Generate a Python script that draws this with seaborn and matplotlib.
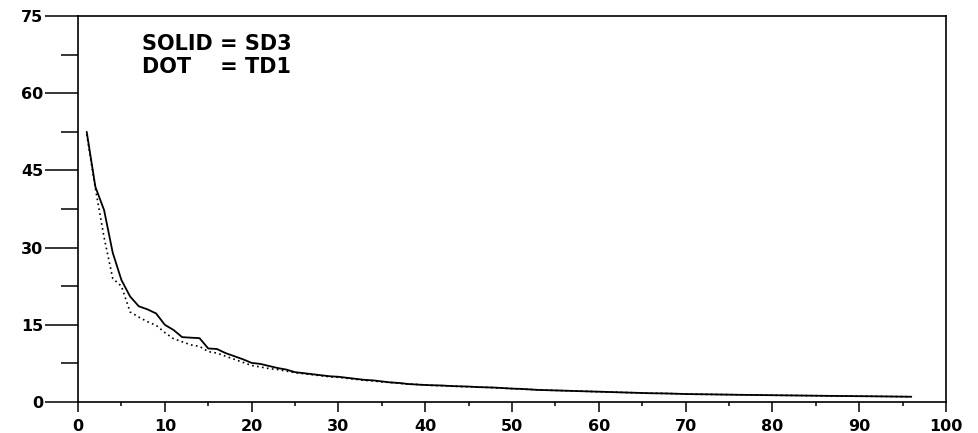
import matplotlib
matplotlib.use("Agg")

import matplotlib.pyplot as plt
import pandas as pd
import seaborn as sns
from matplotlib.ticker import MultipleLocator

# x positions (1..96) and the two series
x_vals = list(range(1, 97))

sd3 = [
    52.5, 41.8, 37.3, 29.0, 23.7, 20.5, 18.6, 18.0, 17.2, 15.0,
    14.0, 12.6, 12.5, 12.4, 10.4, 10.3, 9.5, 8.9, 8.3, 7.6,
    7.4, 7.0, 6.6, 6.3, 5.8, 5.6, 5.4, 5.2, 5.0, 4.9,
    4.7, 4.5, 4.3, 4.2, 4.0, 3.8, 3.7, 3.5, 3.4, 3.3,
    3.25, 3.2, 3.1, 3.05, 3.0, 2.9, 2.85, 2.8, 2.7, 2.6,
    2.55, 2.45, 2.35, 2.3, 2.25, 2.2, 2.15, 2.1, 2.05, 2.0,
    1.95, 1.9, 1.85, 1.8, 1.75, 1.7, 1.68, 1.65, 1.6, 1.55,
    1.52, 1.5, 1.48, 1.45, 1.43, 1.4, 1.38, 1.36, 1.34, 1.32,
    1.3, 1.28, 1.26, 1.24, 1.22, 1.2, 1.18, 1.16, 1.15, 1.13,
    1.12, 1.1, 1.08, 1.06, 1.04, 1.02,
]

td1 = [
    52.0, 41.5, 32.0, 24.0, 22.5, 17.5, 16.5, 15.6, 14.9, 13.5,
    12.3, 11.7, 11.1, 10.8, 9.8, 9.5, 8.9, 8.3, 7.7, 7.1,
    6.8, 6.5, 6.3, 6.0, 5.7, 5.5, 5.3, 5.1, 4.9, 4.8,
    4.6, 4.4, 4.2, 4.1, 3.9, 3.8, 3.6, 3.5, 3.4, 3.3,
    3.2, 3.15, 3.1, 3.0, 2.95, 2.9, 2.85, 2.75, 2.7, 2.6,
    2.5, 2.45, 2.35, 2.3, 2.25, 2.2, 2.15, 2.1, 2.05, 2.0,
    1.95, 1.9, 1.85, 1.8, 1.75, 1.72, 1.68, 1.65, 1.6, 1.56,
    1.52, 1.5, 1.48, 1.46, 1.43, 1.4, 1.38, 1.36, 1.34, 1.32,
    1.3, 1.28, 1.26, 1.24, 1.22, 1.2, 1.18, 1.17, 1.15, 1.13,
    1.12, 1.1, 1.08, 1.06, 1.04, 1.02,
]

y_major = [0, 15, 30, 45, 60, 75]
x_major = list(range(0, 101, 10))

sns.set_style("ticks")
plt.rcParams["font.family"] = ["DejaVu Sans"]
plt.rcParams["text.color"] = "black"
plt.rcParams["xtick.color"] = "black"
plt.rcParams["ytick.color"] = "black"

df = pd.DataFrame({"x": x_vals, "SD3": sd3, "TD1": td1})

fig = plt.figure(figsize=(9.79, 4.33), dpi=100)
ax = fig.add_axes([0.0797, 0.0716, 0.8866, 0.8914])

sns.lineplot(data=df, x="x", y="SD3", ax=ax, color="black", linewidth=1.3)
sns.lineplot(data=df, x="x", y="TD1", ax=ax, color="black", linewidth=1.2,
             linestyle=(0, (1, 2)))

ax.set_xlim(0, 100)
ax.set_ylim(0, 75)
ax.set_xlabel("")
ax.set_ylabel("")

for side in ["left", "right", "top", "bottom"]:
    ax.spines[side].set_visible(True)
    ax.spines[side].set_color("black")
    ax.spines[side].set_linewidth(1.2)

ax.set_xticks(x_major)
ax.set_yticks(y_major)
ax.xaxis.set_minor_locator(MultipleLocator(5))
ax.yaxis.set_minor_locator(MultipleLocator(7.5))

ax.tick_params(axis="y", which="major", direction="out", length=23.5,
               width=1.1, color="black", pad=1.5, labelsize=11.5,
               labelcolor="black")
ax.tick_params(axis="y", which="minor", direction="out", length=12,
               width=1.1, color="black")
ax.tick_params(axis="x", which="major", direction="out", length=7.2,
               width=1.1, color="black", pad=5, labelsize=11.5,
               labelcolor="black")
ax.tick_params(axis="x", which="minor", direction="out", length=3,
               width=1.1, color="black")

for lab in ax.get_xticklabels() + ax.get_yticklabels():
    lab.set_fontweight("bold")

fig.text(0.145, 0.8845, "SOLID = SD3", fontsize=15, fontweight="bold",
         color="black", va="baseline", ha="left")
fig.text(0.145, 0.8310, "DOT    = TD1", fontsize=15, fontweight="bold",
         color="black", va="baseline", ha="left")

fig.savefig("out.png", dpi=100)
plt.close(fig)
